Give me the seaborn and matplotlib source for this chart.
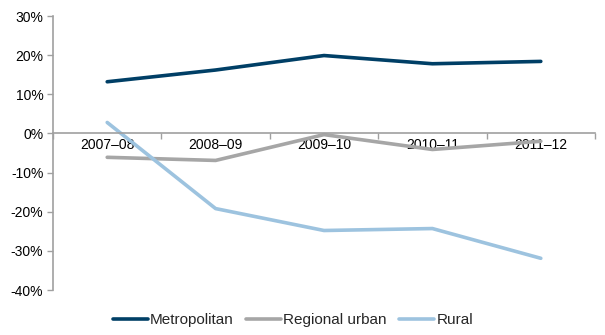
import matplotlib
matplotlib.use("Agg")
import matplotlib.pyplot as plt
import seaborn as sns
import pandas as pd
from matplotlib.ticker import FuncFormatter, FixedLocator

years = ["2007\u201308", "2008\u201309", "2009\u201310", "2010\u201311", "2011\u201312"]
metropolitan = [13.2, 16.2, 19.9, 17.8, 18.4]
regional_urban = [-6.1, -6.9, -0.3, -4.1, -2.0]
rural = [2.8, -19.2, -24.8, -24.3, -31.9]
series_names = ["Metropolitan", "Regional urban", "Rural"]
colors = ["#003F66", "#A6A6A6", "#9DC3DF"]

rows = []
for name, vals in zip(series_names, [metropolitan, regional_urban, rural]):
    for i, (y, v) in enumerate(zip(years, vals)):
        rows.append({"pos": i, "year": y, "value": v, "series": name})
df = pd.DataFrame(rows)

sns.set_style("white")
plt.rcParams['font.family'] = ['Liberation Sans', 'DejaVu Sans']

fig = plt.figure(figsize=(6.05, 3.35), dpi=100)
ax = fig.add_axes([53/605, 1-290/335, (595-53)/605, (290-16)/335])

sns.lineplot(data=df, x="pos", y="value", hue="series", palette=colors,
             hue_order=series_names, linewidth=2.6, ax=ax, legend=False, sort=False)

ax.set_xlim(-0.5, 4.5)
ax.set_ylim(-40, 30)
ax.set_yticks(range(-40, 31, 10))
ax.yaxis.set_major_formatter(FuncFormatter(lambda v, p: f"{int(v)}%"))
ax.set_xlabel("")
ax.set_ylabel("")

for s in ["top", "right"]:
    ax.spines[s].set_visible(False)
ax.spines["bottom"].set_position(("data", 0))
for s in ["left", "bottom"]:
    ax.spines[s].set_color("#A0A0A0")
    ax.spines[s].set_linewidth(1.2)

ax.xaxis.set_major_locator(FixedLocator([-0.5, 0.5, 1.5, 2.5, 3.5, 4.5]))
ax.xaxis.set_minor_locator(FixedLocator([0, 1, 2, 3, 4]))
ax.set_xticklabels([], minor=False)
ax.set_xticklabels(years, minor=True)
ax.tick_params(axis="x", which="major", direction="out", length=4, color="#A0A0A0", width=1)
ax.tick_params(axis="x", which="minor", length=0, pad=3, labelsize=10, labelcolor="black")
ax.tick_params(axis="y", direction="out", length=4, color="#A0A0A0", width=1,
               labelsize=10, labelcolor="black", pad=3, left=True)
ax.tick_params(axis="x", which="major", bottom=True)

handles = [plt.Line2D([], [], color=c, linewidth=2.6) for c in colors]
fig.legend(handles, series_names, loc="center", bbox_to_anchor=(0.484, 1-320/335),
           ncol=3, frameon=False, handlelength=2.3, handletextpad=0.15,
           columnspacing=0.8, fontsize=11)

fig.savefig("out.png", dpi=100)
